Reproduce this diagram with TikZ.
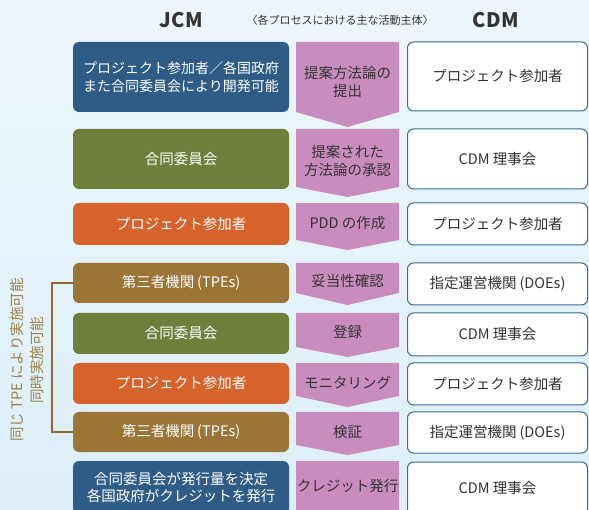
\documentclass[tikz,border=0pt]{standalone}
\usepackage{fontspec}
\setmainfont{Noto Sans CJK JP}
\definecolor{jblue}{HTML}{2E5C87}
\definecolor{jgreen}{HTML}{6F7F3B}
\definecolor{jorange}{HTML}{D6632B}
\definecolor{jbrown}{HTML}{9B7536}
\definecolor{mauve}{HTML}{C98CBF}
\definecolor{rborder}{HTML}{3B6B93}
\definecolor{tdark}{HTML}{333333}
\definecolor{vtext}{HTML}{9C8248}
\definecolor{bracketc}{HTML}{8E6B2E}
\definecolor{bgtop}{HTML}{EEF6FB}
\definecolor{bgbot}{HTML}{DCEFF9}
\newcommand\marrow[6]{%
  \fill[mauve] (296,#1) -- (399,#1) -- (399,#2) -- (347.5,#3) -- (296,#2) -- cycle;
  \node[mtext] (#4) at (347.5,#5) {#6};}
\begin{document}
\begin{tikzpicture}[x=1pt,y=-1pt,
  boxtext/.style={align=center, inner sep=0pt, font=\fontsize{14.5}{17.5}\selectfont},
  lbox/.style={boxtext, rounded corners=6pt, minimum width=216pt, fill=#1, text=white},
  rbox/.style={boxtext, rounded corners=6pt, minimum width=180pt, fill=white, draw=rborder, line width=1pt, text=tdark},
  mtext/.style={boxtext, text=tdark},
  head/.style={inner sep=0pt, text=tdark},
  bighead/.style={head, font=\fontsize{20}{20}\bfseries\addfontfeature{LetterSpace=3}},
  bracketline/.style={draw=bracketc, line width=2pt}]
\useasboundingbox (0,0) rectangle (589,510);
\clip (0,0) rectangle (589,510);
\shade[top color=bgtop, bottom color=bgbot] (0,0) rectangle (589,510);

% headers
\node[bighead] (hj) at (181,20) {JCM};
\node[head, font=\fontsize{11}{11}\selectfont] (hs) at (340,20) {〈各プロセスにおける主な活動主体〉};
\node[bighead] (hc) at (496,20) {CDM};

% middle arrows
\marrow{42}{112}{127}{m1}{82}{提案方法論の\\提出}
\marrow{129}{187}{197}{m2}{161}{提案された\\方法論の承認}
\marrow{203}{240}{250}{m3}{223}{PDD の作成}
\marrow{263}{293}{305}{m4}{281}{妥当性確認}
\marrow{313}{347}{357}{m5}{332}{登録}
\marrow{363}{396}{407}{m6}{383}{モニタリング}
\marrow{412}{445}{455}{m7}{432}{検証}
\marrow{461}{530}{545}{m8}{486}{クレジット発行}

% left (JCM) boxes
\node[lbox=jblue, minimum height=70pt, font=\fontsize{14}{17.5}\selectfont] (L1) at (181,77) {プロジェクト参加者／各国政府\\また合同委員会により開発可能};
\node[lbox=jgreen, minimum height=60pt] (L2) at (181,159) {合同委員会};
\node[lbox=jorange, minimum height=42pt] (L3) at (181,224) {プロジェクト参加者};
\node[lbox=jbrown, minimum height=40pt] (L4) at (181,283) {第三者機関\kern3pt(TPEs)};
\node[lbox=jgreen, minimum height=41pt] (L5) at (181,333.5) {合同委員会};
\node[lbox=jorange, minimum height=41pt] (L6) at (181,383.5) {プロジェクト参加者};
\node[lbox=jbrown, minimum height=40pt] (L7) at (181,432) {第三者機関\kern3pt(TPEs)};
\node[lbox=jblue, minimum height=53pt] (L8) at (181,487.5) {合同委員会が発行量を決定\\各国政府がクレジットを発行};

% right (CDM) boxes
\node[rbox, minimum height=69pt] (R1) at (497.5,76.5) {プロジェクト参加者};
\node[rbox, minimum height=60pt] (R2) at (497.5,159) {CDM 理事会};
\node[rbox, minimum height=42pt] (R3) at (497.5,224) {プロジェクト参加者};
\node[rbox, minimum height=42pt] (R4) at (497.5,284) {指定運営機関\kern3pt(DOEs)};
\node[rbox, minimum height=43pt] (R5) at (497.5,334.5) {CDM 理事会};
\node[rbox, minimum height=42pt] (R6) at (497.5,384) {プロジェクト参加者};
\node[rbox, minimum height=41pt] (R7) at (497.5,432.5) {指定運営機関\kern3pt(DOEs)};
\node[rbox, minimum height=53pt] (R8) at (497.5,488.5) {CDM 理事会};

% bracket
\draw[bracketline] (L4.west) -- ++(-21,0) |- (L7.west);
\node[rotate=90, align=center, inner sep=0pt, text=vtext, font=\fontsize{14.5}{20}\selectfont] (vt) at (27,360) {同じ TPE により実施可能\\同時実施可能};
\end{tikzpicture}
\end{document}
